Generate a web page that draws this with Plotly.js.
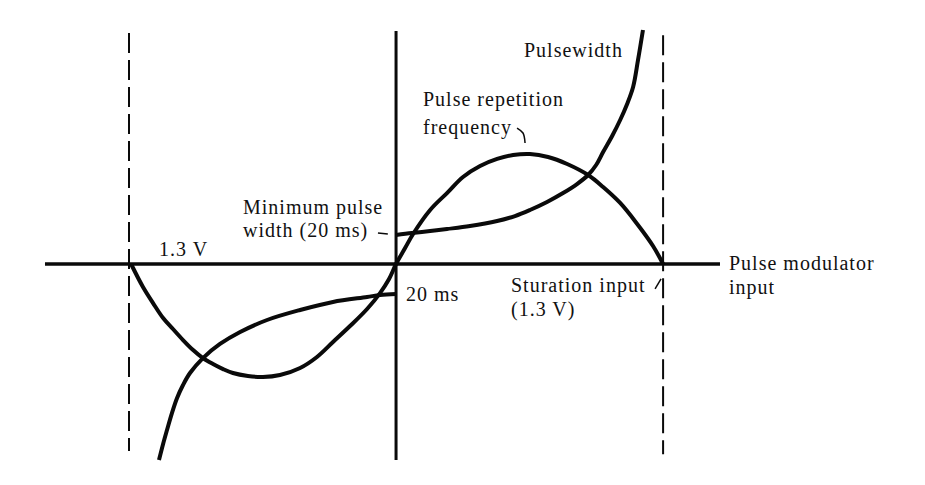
<!DOCTYPE html>
<html>
<head>
<meta charset="utf-8">
<script src="https://cdn.plot.ly/plotly-3.0.1.min.js"></script>
<style>
  html, body { margin: 0; padding: 0; background: #fff; }
  #chart { width: 925px; height: 485px; }
  .annotation-text { letter-spacing: 1px; }
</style>
</head>
<body>
<div id="chart"></div>
<script>
// Input voltage (V) vs. relative response (arbitrary units)
const prfV = [-1.29, -1.232, -1.183, -1.134, -1.086, -1.037, -0.988, -0.94, -0.891, -0.842, -0.794, -0.721, -0.648, -0.565, -0.467, -0.385, -0.307, -0.224, -0.141, -0.078, -0.034, 0,
              0.044, 0.083, 0.166, 0.248, 0.326, 0.409, 0.492, 0.57, 0.652, 0.74, 0.833, 0.935, 1.008, 1.091, 1.174, 1.251, 1.3];
const prfY = [0, -0.209, -0.355, -0.491, -0.591, -0.691, -0.782, -0.855, -0.909, -0.955, -0.991, -1.018, -1.027, -1.009, -0.945, -0.845, -0.709, -0.564, -0.409, -0.264, -0.136, 0,
              0.145, 0.273, 0.491, 0.645, 0.791, 0.891, 0.955, 0.991, 1.0, 0.973, 0.909, 0.809, 0.70, 0.555, 0.364, 0.164, 0];

const pwLowV = [-1.154, -1.134, -1.115, -1.091, -1.066, -1.037, -1.003, -0.94, -0.857, -0.759, -0.628, -0.467, -0.307, -0.141, -0.078, 0];
const pwLowY = [-1.782, -1.636, -1.509, -1.355, -1.218, -1.10, -0.991, -0.855, -0.727, -0.618, -0.509, -0.418, -0.345, -0.30, -0.282, -0.273];

const pwUpV = [0, 0.078, 0.166, 0.248, 0.36, 0.492, 0.579, 0.652, 0.735, 0.813, 0.881, 0.935, 0.974, 1.008, 1.052, 1.091, 1.125, 1.154, 1.178, 1.202];
const pwUpY = [0.264, 0.282, 0.30, 0.318, 0.345, 0.391, 0.436, 0.491, 0.564, 0.645, 0.727, 0.809, 0.90, 1.018, 1.164, 1.309, 1.455, 1.609, 1.855, 2.127];

// guide lines
const axisH = {v: [-1.709, 1.577], y: [0, 0]};
const axisV = {v: [0, 0], y: [2.118, -1.782]};
const satLeft = {v: [-1.3, -1.3], y: [2.1, -1.7]};
const satRight = {v: [1.3, 1.3], y: [2.08, -1.73]};

// small leader marks
const hookV = [0.589, 0.618, 0.628];
const hookY = [1.236, 1.191, 1.1];
const tickV = [1.261, 1.29];
const tickY = [-0.227, -0.136];
const leaderV = [-0.088, -0.04];
const leaderY = [0.282, 0.273];

// labels
const labelText = ["Pulsewidth", "Pulse repetition", "frequency", "Minimum pulse", "width (20 ms)", "1.3 V", "20 ms", "Pulse modulator", "input", "Sturation input", "(1.3 V)"];
const labelV = [0.618, 0.127, 0.127, -0.75, -0.75, -1.159, 0.044, 1.616, 1.616, 0.555, 0.555];
const labelY = [1.945, 1.491, 1.245, 0.518, 0.309, 0.136, -0.273, 0.009, -0.218, -0.191, -0.418];

const ink = '#0a0a0a';
const curve = (x, y, w) => ({x, y, type: 'scatter', mode: 'lines', hoverinfo: 'skip',
  line: {color: ink, width: w, shape: 'spline', smoothing: 1}});
const straight = (o, w, dash) => ({x: o.v, y: o.y, type: 'scatter', mode: 'lines', hoverinfo: 'skip',
  line: {color: ink, width: w, dash: dash || 'solid'}});

const traces = [
  straight(axisH, 3.5),
  straight(axisV, 3),
  straight(satLeft, 2, '20px,7px'),
  straight(satRight, 2, '20px,7px'),
  curve(prfV, prfY, 4),
  curve(pwLowV, pwLowY, 4),
  curve(pwUpV, pwUpY, 4),
  curve(hookV, hookY, 1.5),
  straight({v: tickV, y: tickY}, 1.5),
  straight({v: leaderV, y: leaderY}, 1.5)
];

const annotations = labelText.map((t, i) => ({
  x: labelV[i], y: labelY[i], xref: 'x', yref: 'y', text: t, showarrow: false,
  xanchor: 'left', yanchor: 'middle', borderpad: 0,
  font: {family: 'Liberation Serif, Times New Roman, serif', size: 20, color: '#111'}
}));

const layout = {
  width: 925, height: 485,
  margin: {l: 0, r: 0, t: 0, b: 0, pad: 0},
  paper_bgcolor: '#fff', plot_bgcolor: '#fff',
  showlegend: false,
  xaxis: {range: [-1.928, 2.575], visible: false, fixedrange: true},
  yaxis: {range: [-2.009, 2.4], visible: false, fixedrange: true},
  annotations
};

Plotly.newPlot('chart', traces, layout, {staticPlot: true, displayModeBar: false});
</script>
</body>
</html>
